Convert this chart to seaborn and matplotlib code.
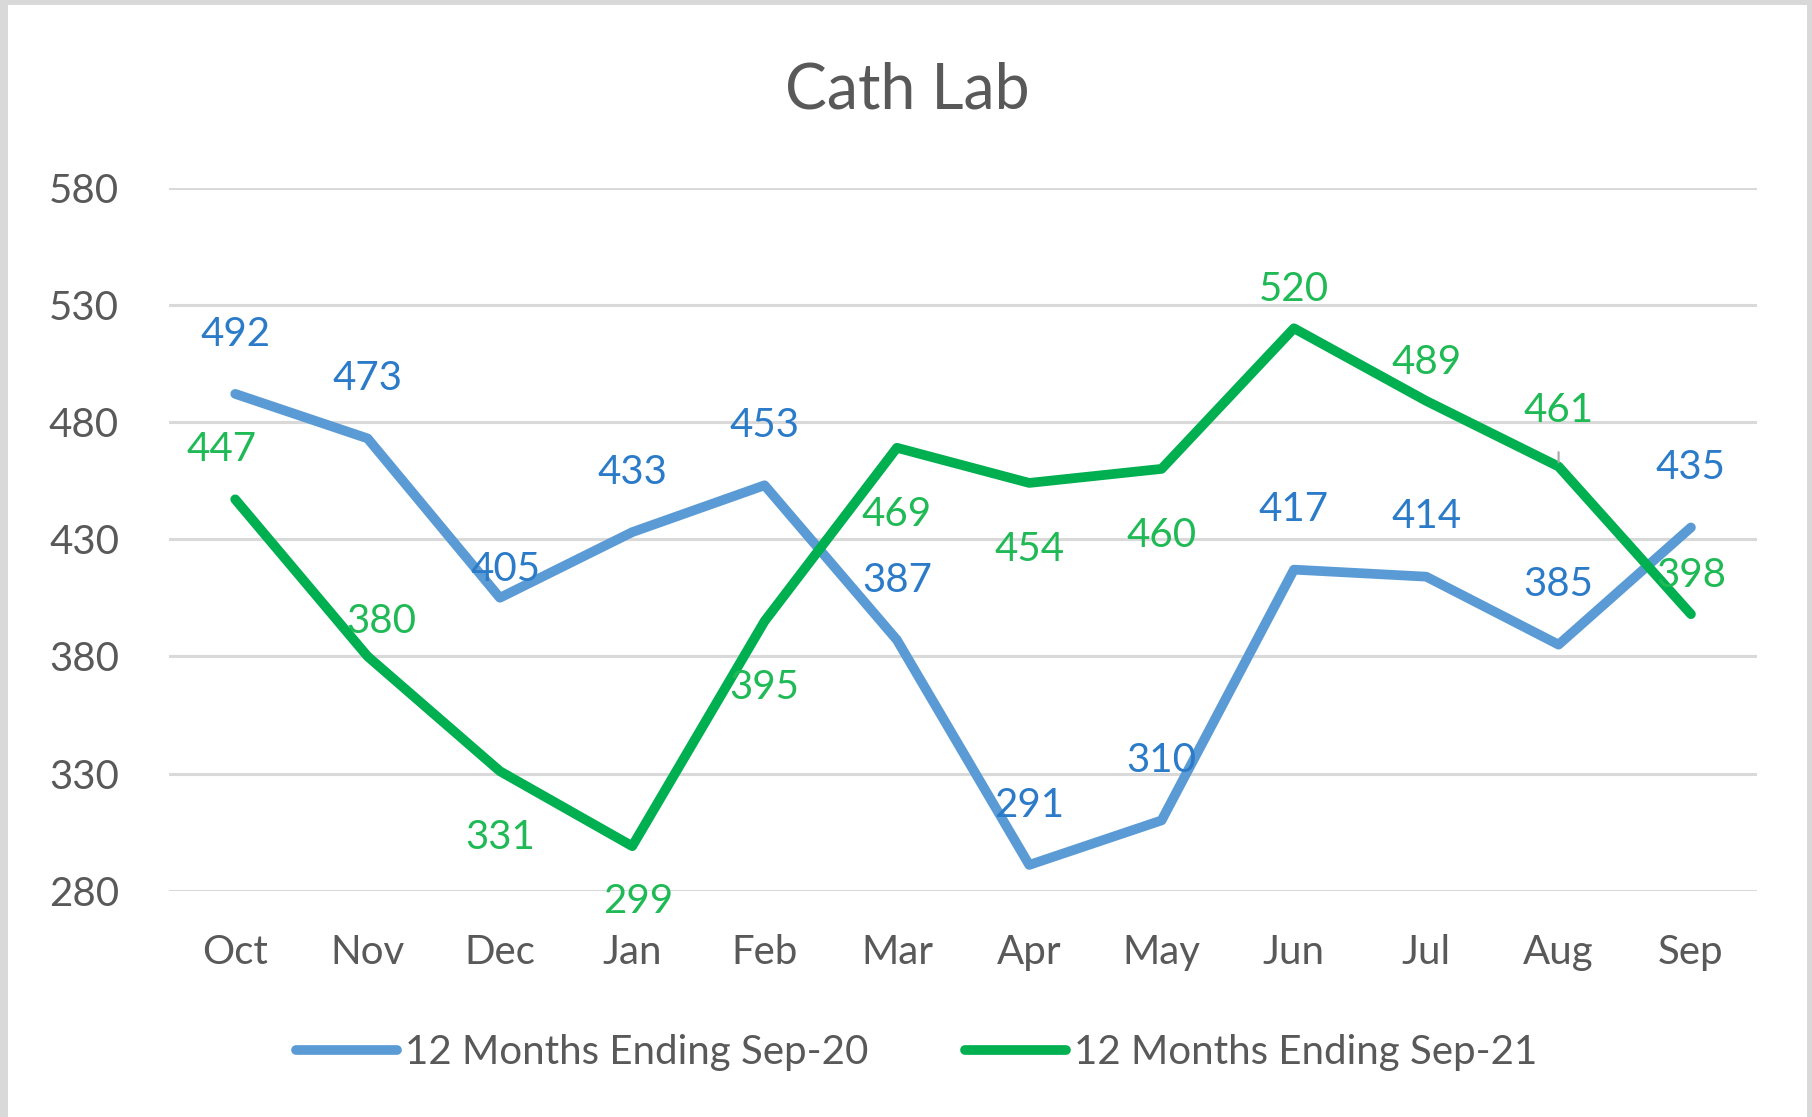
import matplotlib
matplotlib.use("Agg")
import matplotlib.pyplot as plt
from matplotlib.patches import Rectangle
import pandas as pd
import seaborn as sns

# --- Data ---
months = ["Oct", "Nov", "Dec", "Jan", "Feb", "Mar", "Apr", "May", "Jun", "Jul", "Aug", "Sep"]
sep20 = [492, 473, 405, 433, 453, 387, 291, 310, 417, 414, 385, 435]
sep21 = [447, 380, 331, 299, 395, 469, 454, 460, 520, 489, 461, 398]
series_names = ["12 Months Ending Sep-20", "12 Months Ending Sep-21"]
y_ticks = [280, 330, 380, 430, 480, 530, 580]

# label placement for the Sep-21 series (1 = above, -1 = below)
sep21_side = [1, 1, -1, -1, -1, -1, -1, -1, 1, 1, 1, 1]
# a few labels were nudged by hand in the original chart (offset points)
sep20_nudge = {"Dec": (4, 20)}
sep21_nudge = {"Oct": (-10, 36), "Nov": (10, 25), "Jan": (4, -40), "Aug": (0, 40)}

line_colors = ["#5B9BD5", "#00B050"]
label_colors = ["#2B7BC9", "#1FBA55"]
text_grey = "#595959"
fs = 29

sns.set_theme(style="white")
plt.rcParams["font.family"] = ["Lato", "DejaVu Sans"]

df = pd.DataFrame({
    "month": months * 2,
    "value": sep20 + sep21,
    "series": [series_names[0]] * len(months) + [series_names[1]] * len(months),
})

fig = plt.figure(figsize=(18.12, 11.17), dpi=100)
ax = fig.add_axes([0.0933, 0.2026, 0.8764, 0.6294])

sns.lineplot(data=df, x="month", y="value", hue="series", palette=line_colors,
             linewidth=7, solid_capstyle="round", solid_joinstyle="round",
             sort=False, ax=ax)

ax.set_ylim(280, 580)
ax.set_xlim(-0.5, len(months) - 0.5)
ax.set_yticks(y_ticks)
ax.yaxis.grid(True, color="#D9D9D9", linewidth=2.2)
ax.xaxis.grid(False)
ax.set_axisbelow(True)
for s in ax.spines.values():
    s.set_visible(False)
ax.tick_params(axis="y", length=0, pad=36, labelsize=fs, labelcolor=text_grey)
ax.tick_params(axis="x", length=0, pad=31, labelsize=fs, labelcolor=text_grey)
ax.set_xlabel("")
ax.set_ylabel("")

# --- Data labels ---
for i, v in enumerate(sep20):
    off = sep20_nudge.get(months[i], (0, 43))
    ax.annotate(str(v), (i, v), xytext=off, textcoords="offset points",
                ha="center", va="center", fontsize=fs, color=label_colors[0])
for i, v in enumerate(sep21):
    off = sep21_nudge.get(months[i], (0, 28 if sep21_side[i] > 0 else -48))
    extra = {}
    if months[i] == "Aug":
        extra = dict(arrowprops=dict(arrowstyle="-", color="#A6A6A6", lw=1.5,
                                     shrinkA=14, shrinkB=3))
    ax.annotate(str(v), (i, v), xytext=off, textcoords="offset points",
                ha="center", va="center", fontsize=fs, color=label_colors[1], **extra)

# --- Title ---
fig.text(0.501, 0.919, "Cath Lab", ha="center", va="center", fontsize=45, color=text_grey)

# --- Legend ---
handles, labels = ax.get_legend_handles_labels()
ax.get_legend().remove()
leg = fig.legend(handles, labels, loc="center", bbox_to_anchor=(0.506, 0.058), ncol=2,
                 frameon=False, fontsize=fs, handlelength=2.5, handletextpad=0.2,
                 columnspacing=2.4, labelcolor=text_grey)
for h in leg.get_lines():
    h.set_linewidth(7)
    h.set_solid_capstyle("round")

# --- Light grey chart border ---
fig.patches.append(Rectangle((0, 0), 8 / 1812, 1, transform=fig.transFigure,
                             facecolor="#D9D9D9", edgecolor="none"))
fig.patches.append(Rectangle((0, 1 - 5 / 1117), 1, 5 / 1117, transform=fig.transFigure,
                             facecolor="#D9D9D9", edgecolor="none"))
fig.patches.append(Rectangle((1 - 5 / 1812, 0), 5 / 1812, 1, transform=fig.transFigure,
                             facecolor="#D9D9D9", edgecolor="none"))

fig.savefig("out.png", dpi=100, facecolor="white")
plt.close(fig)
